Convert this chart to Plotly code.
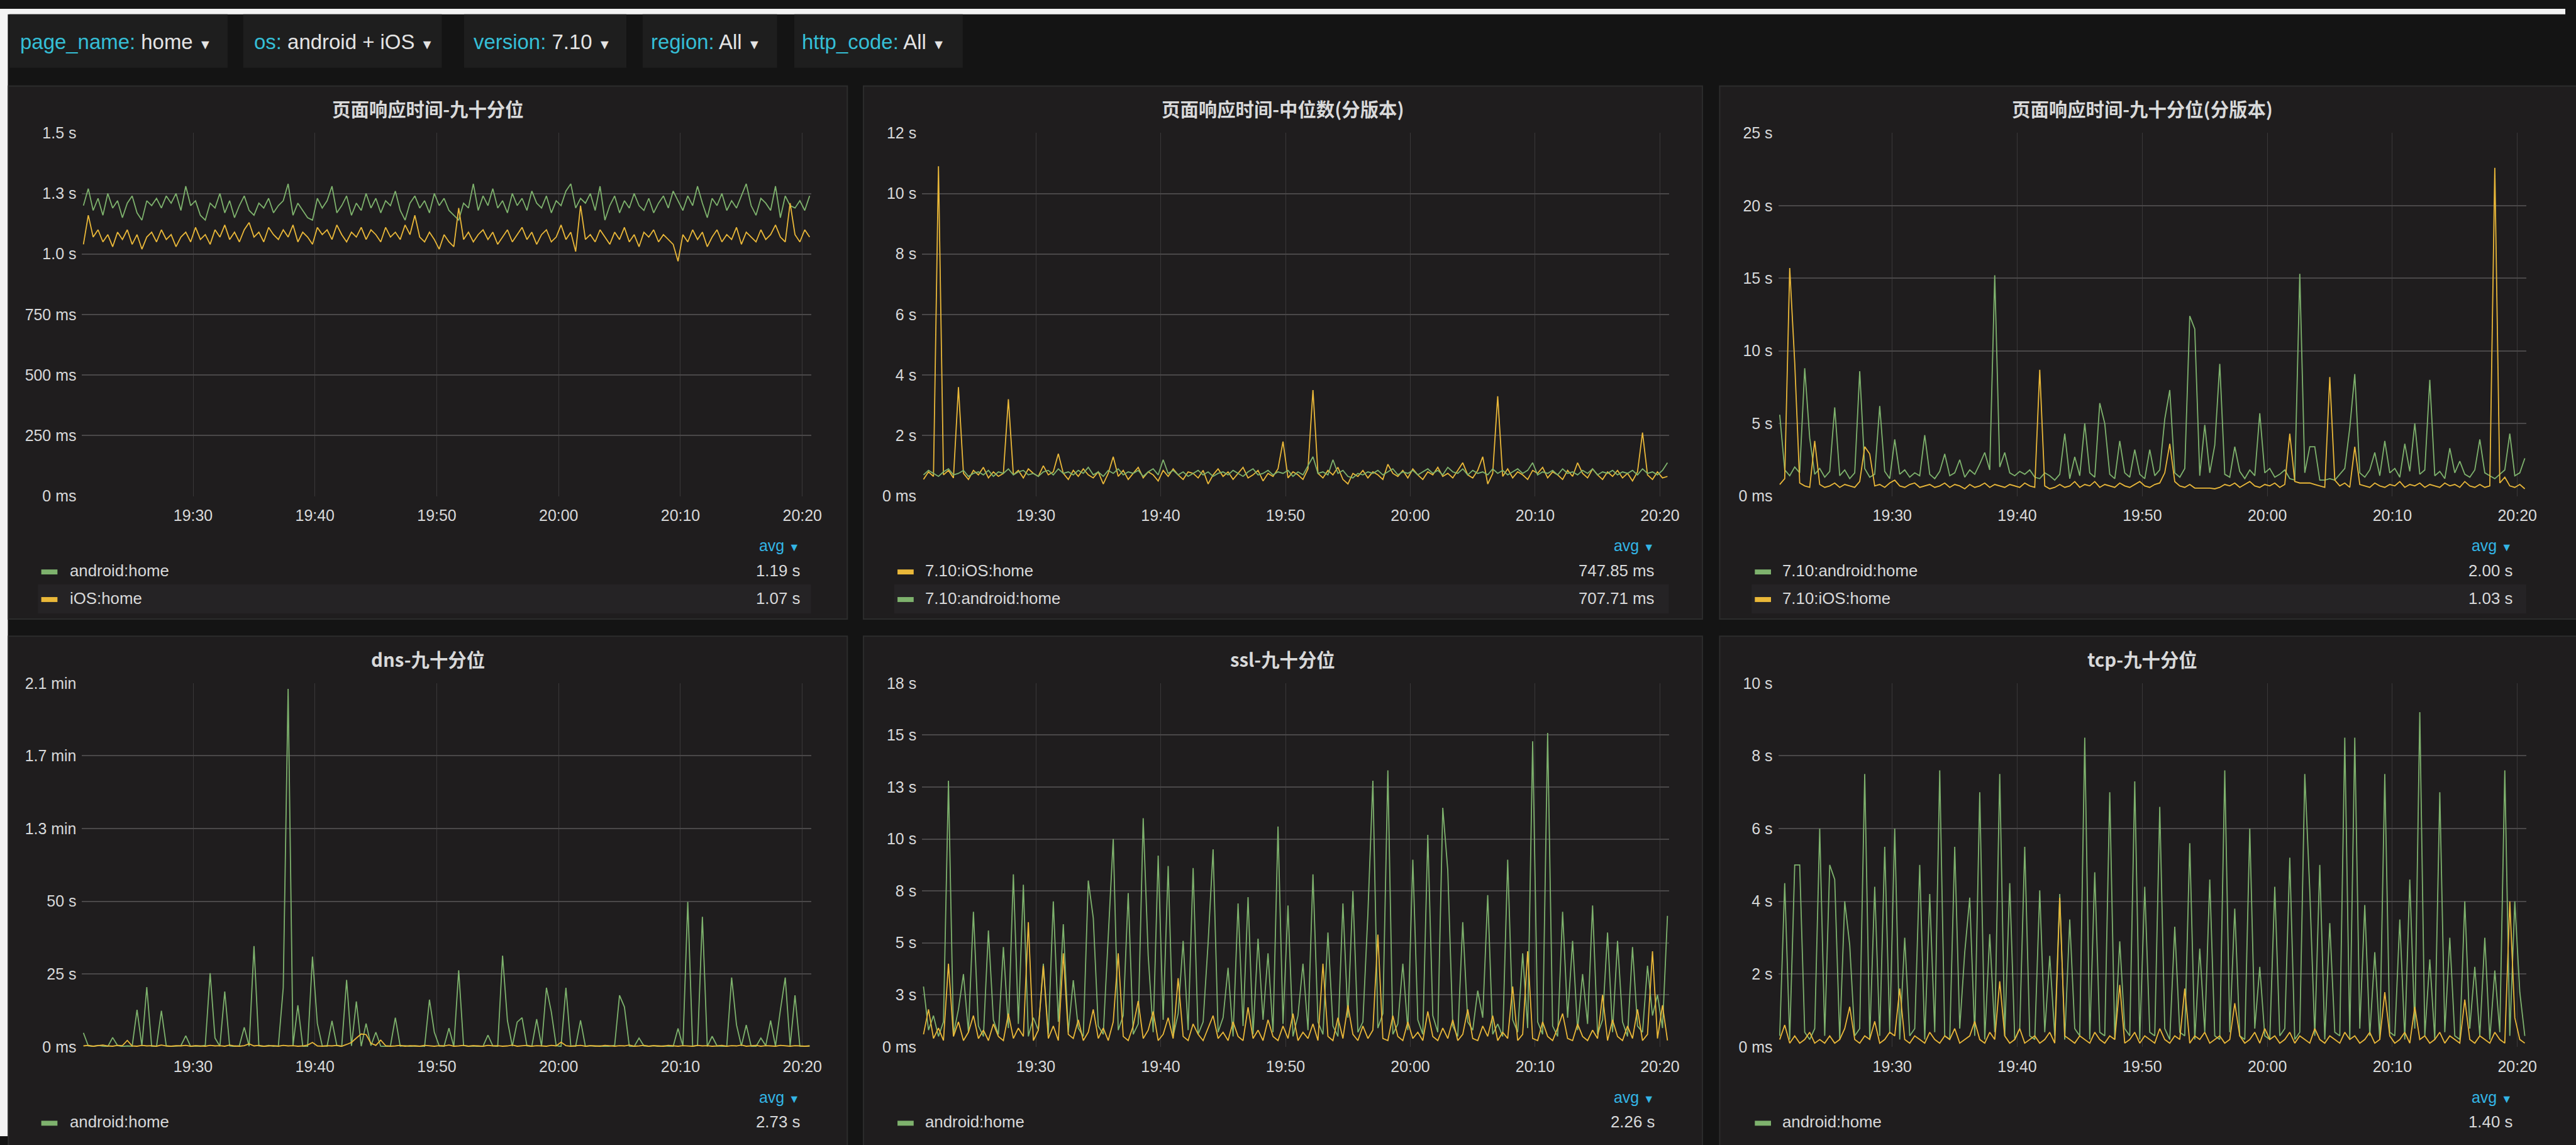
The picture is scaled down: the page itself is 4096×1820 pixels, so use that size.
import pandas as pd
import plotly.graph_objects as go

# ---------------- data ----------------
T_START = "2017-06-01 19:21:00"
N_POINTS = 150
STEP = "24s"
X_RANGE = ["2017-06-01 19:20:53", "2017-06-01 20:20:43"]

p1_android = [
    1.20, 1.27, 1.18, 1.23, 1.16, 1.25, 1.19, 1.22, 1.15, 1.21,
    1.24, 1.17, 1.14, 1.22, 1.20, 1.23, 1.19, 1.24, 1.21, 1.25,
    1.18, 1.28, 1.20, 1.22, 1.16, 1.14, 1.21, 1.19, 1.25, 1.17,
    1.22, 1.15, 1.20, 1.24, 1.18, 1.16, 1.21, 1.19, 1.23, 1.17,
    1.20, 1.22, 1.29, 1.16, 1.21, 1.18, 1.15, 1.14, 1.23, 1.19,
    1.22, 1.28, 1.17, 1.20, 1.24, 1.16, 1.21, 1.18, 1.25, 1.19,
    1.23, 1.17, 1.22, 1.20, 1.26, 1.18, 1.14, 1.21, 1.24, 1.19,
    1.22, 1.17, 1.25, 1.20, 1.23, 1.18, 1.16, 1.14, 1.21, 1.19,
    1.29, 1.18, 1.24, 1.20, 1.27, 1.19, 1.22, 1.17, 1.25, 1.20,
    1.23, 1.18, 1.26, 1.21, 1.19, 1.24, 1.17, 1.22, 1.20, 1.26,
    1.29, 1.19, 1.23, 1.21, 1.25, 1.18, 1.28, 1.14, 1.20, 1.24,
    1.17, 1.22, 1.19, 1.25, 1.20, 1.18, 1.23, 1.17, 1.21, 1.24,
    1.19, 1.26, 1.22, 1.18, 1.24, 1.20, 1.28, 1.21, 1.15, 1.23,
    1.20, 1.25, 1.18, 1.22, 1.19, 1.24, 1.29, 1.20, 1.16, 1.23,
    1.21, 1.18, 1.28, 1.15, 1.24, 1.20, 1.19, 1.22, 1.18, 1.24,
]
p1_ios = [
    1.04, 1.16, 1.07, 1.10, 1.05, 1.08, 1.03, 1.09, 1.06, 1.10,
    1.04, 1.08, 1.02, 1.07, 1.09, 1.05, 1.10, 1.06, 1.08, 1.03,
    1.07, 1.09, 1.05, 1.11, 1.06, 1.08, 1.04, 1.10, 1.07, 1.12,
    1.06, 1.09, 1.05, 1.10, 1.13, 1.07, 1.09, 1.05, 1.11, 1.08,
    1.06, 1.10, 1.07, 1.12, 1.05, 1.09, 1.07, 1.04, 1.11, 1.08,
    1.10, 1.06, 1.12, 1.08, 1.05, 1.09, 1.07, 1.11, 1.06, 1.10,
    1.08, 1.05, 1.11, 1.07, 1.09, 1.06, 1.12, 1.08, 1.16, 1.07,
    1.05, 1.09, 1.06, 1.02, 1.08, 1.05, 1.03, 1.19, 1.06, 1.09,
    1.05, 1.08, 1.10, 1.06, 1.09, 1.04, 1.07, 1.10, 1.05, 1.08,
    1.11, 1.06, 1.09, 1.04, 1.08, 1.10, 1.05, 1.07, 1.12, 1.06,
    1.09, 1.01, 1.20, 1.06, 1.08, 1.05, 1.10, 1.07, 1.04, 1.09,
    1.06, 1.11, 1.05, 1.08, 1.03, 1.09, 1.07, 1.10, 1.05, 1.08,
    1.06, 1.04, 0.97, 1.08, 1.05, 1.10, 1.06, 1.09, 1.03, 1.07,
    1.10, 1.05, 1.08, 1.06, 1.11, 1.04, 1.09, 1.07, 1.05, 1.10,
    1.06, 1.08, 1.12, 1.07, 1.05, 1.21, 1.08, 1.05, 1.10, 1.07,
]
p2_ios = [
    0.55, 0.80, 0.65, 10.90, 0.70, 0.85, 0.60, 3.60, 0.75, 0.55,
    0.85, 0.70, 0.95, 0.60, 0.80, 0.65, 0.75, 3.20, 0.70, 0.85,
    0.60, 0.90, 0.75, 0.65, 1.00, 0.70, 0.80, 1.40, 0.75, 0.55,
    0.85, 0.65, 0.90, 0.70, 0.60, 0.80, 0.40, 0.75, 1.30, 0.65,
    0.85, 0.55, 0.75, 0.95, 0.60, 0.80, 0.70, 0.50, 0.85, 0.65,
    0.90, 0.70, 0.55, 0.80, 0.75, 0.60, 0.85, 0.40, 0.70, 0.90,
    0.65, 0.80, 0.55, 0.75, 0.95, 0.60, 0.70, 0.85, 0.50, 0.75,
    0.65, 0.90, 1.80, 0.60, 0.80, 0.70, 0.55, 0.90, 3.50, 0.75,
    0.60, 0.85, 0.70, 0.95, 0.55, 0.40, 0.75, 0.65, 0.85, 0.60,
    0.80, 0.70, 0.55, 1.05, 0.75, 0.65, 0.85, 0.60, 0.90, 0.70,
    0.55, 0.80, 0.70, 0.95, 0.65, 0.75, 0.60, 0.85, 1.10, 0.70,
    0.60, 0.85, 1.30, 0.40, 0.75, 3.30, 0.65, 0.90, 0.60, 0.80,
    0.70, 0.55, 0.85, 0.75, 0.95, 0.60, 0.80, 0.70, 0.55, 0.85,
    0.65, 1.10, 0.75, 0.60, 0.90, 0.70, 0.55, 0.80, 0.65, 0.85,
    0.60, 0.75, 0.50, 0.80, 2.10, 0.70, 0.55, 0.80, 0.60, 0.65,
]
p2_android = [
    0.70, 0.85, 0.75, 0.65, 0.80, 0.90, 0.70, 0.75, 0.85, 0.65,
    0.75, 0.80, 0.70, 0.85, 0.65, 0.80, 0.75, 0.90, 0.70, 0.80,
    0.85, 0.70, 0.75, 0.65, 0.80, 0.85, 0.70, 0.90, 0.75, 0.80,
    0.70, 0.85, 0.75, 0.95, 0.70, 0.80, 0.65, 0.85, 0.75, 0.90,
    0.70, 0.80, 0.75, 0.85, 0.65, 0.80, 0.90, 0.70, 1.20, 0.75,
    0.85, 0.70, 0.80, 0.65, 0.75, 0.85, 0.70, 0.80, 0.65, 0.75,
    0.80, 0.70, 0.85, 0.75, 0.65, 0.80, 0.90, 0.70, 0.75, 0.85,
    0.70, 0.80, 0.75, 0.85, 0.65, 0.80, 0.70, 1.00, 1.30, 0.75,
    0.80, 0.70, 1.20, 0.75, 0.85, 0.65, 0.60, 0.75, 0.70, 0.80,
    0.75, 0.85, 0.70, 0.80, 0.90, 0.70, 0.80, 0.75, 0.85, 0.70,
    0.80, 0.90, 0.75, 0.85, 0.70, 0.95, 0.80, 0.75, 0.90, 0.70,
    0.85, 0.75, 0.80, 0.70, 0.90, 0.75, 0.85, 0.70, 0.80, 0.90,
    0.75, 0.85, 1.10, 0.70, 0.80, 0.75, 0.85, 0.70, 0.90, 0.75,
    0.80, 0.70, 0.85, 0.75, 0.90, 0.70, 0.80, 0.75, 0.85, 0.70,
    0.80, 0.75, 0.85, 0.70, 0.90, 0.75, 0.80, 0.70, 0.85, 1.10,
]
p3_android = [
    5.6, 1.8, 1.4, 2.0, 1.6, 8.8, 4.0, 1.5, 1.9, 1.3,
    1.7, 6.1, 1.4, 1.8, 1.2, 1.6, 8.6, 1.9, 1.3, 1.5,
    6.2, 1.7, 1.2, 3.9, 1.5, 1.8, 1.3, 1.6, 1.4, 4.2,
    1.5, 1.2, 1.7, 2.9, 1.4, 1.6, 2.5, 1.3, 1.8, 1.5,
    2.2, 3.0, 1.8, 15.2, 2.0, 3.0, 1.6, 1.4, 1.7, 1.5,
    1.8, 1.3, 1.2, 1.6, 1.4, 1.1, 1.5, 4.3, 1.2, 2.7,
    1.4, 5.0, 1.6, 1.3, 6.4, 5.0, 1.5, 1.2, 3.8, 1.6,
    1.3, 3.2, 1.5, 1.2, 3.2, 1.4, 1.8, 5.3, 7.3, 1.6,
    1.3, 1.9, 12.4, 11.5, 1.4, 4.9, 1.6, 3.5, 9.1, 1.5,
    1.3, 3.4, 1.7, 1.2, 1.8, 1.4, 5.7, 1.6, 1.9, 1.3,
    1.5, 1.8, 1.2, 1.1, 15.3, 1.6, 3.4, 3.4, 1.1, 1.1,
    1.2, 1.1, 1.5, 1.9, 4.7, 8.4, 1.6, 1.3, 1.8, 3.0,
    1.4, 3.8, 1.6, 1.9, 1.3, 3.6, 1.7, 5.0, 1.5, 1.8,
    8.0, 1.4, 1.7, 1.2, 3.3, 1.6, 2.4, 1.5, 1.3, 1.8,
    3.9, 1.6, 1.4, 1.2, 1.5, 1.8, 4.3, 1.4, 1.6, 2.6,
]
p3_ios = [
    0.8, 1.2, 15.7, 9.2, 0.9, 0.7, 0.6, 3.8, 0.8, 0.6,
    0.7, 0.9, 0.6, 0.8, 0.7, 0.6, 1.0, 3.4, 2.9, 0.7,
    0.8, 0.6, 0.9, 1.1, 0.7, 0.6, 0.8, 0.9, 0.6, 0.7,
    0.8, 0.6, 0.7, 0.9, 0.6, 0.8, 0.7, 0.5, 0.8, 0.6,
    0.7, 0.9, 0.6, 0.8, 0.7, 0.6, 0.8, 0.7, 0.6, 0.9,
    0.7, 0.6, 8.7, 0.7, 0.5, 0.6, 0.8, 0.6, 0.7, 1.0,
    0.6, 0.8, 0.7, 1.0, 0.6, 0.8, 0.7, 0.6, 0.9, 0.7,
    0.6, 0.8, 1.0, 0.7, 0.6, 0.8, 0.9, 1.6, 3.6, 1.0,
    0.7, 0.6, 0.8, 0.55, 0.55, 0.55, 0.55, 0.5, 0.6, 0.8,
    0.7, 0.9, 0.6, 0.8, 1.0, 0.7, 0.6, 0.8, 0.7, 0.9,
    0.6, 0.8, 4.3, 1.0, 0.9, 0.9, 0.9, 0.8, 0.7, 0.6,
    8.2, 1.1, 0.7, 0.9, 0.6, 3.4, 0.8, 0.7, 0.6, 0.9,
    0.7, 0.6, 0.8, 0.7, 1.0, 0.6, 0.8, 0.7, 0.9, 0.6,
    0.8, 0.7, 0.6, 0.9, 0.7, 0.8, 0.6, 1.0, 0.7, 0.6,
    0.8, 0.6, 0.7, 22.6, 0.9, 1.3, 0.7, 0.6, 0.8, 0.5,
]
dns_android = [
    4.8, 0.3, 0.1, 0.5, 0.2, 0.1, 3.2, 0.4, 0.1, 0.3,
    0.2, 12.7, 0.3, 20.5, 0.2, 0.1, 12.4, 0.3, 0.1, 0.2,
    0.4, 3.8, 0.1, 0.3, 0.2, 0.5, 25.3, 3.0, 0.2, 19.0,
    0.3, 0.1, 0.4, 6.7, 0.2, 34.6, 0.3, 0.1, 0.5, 0.2,
    0.3, 20.3, 123.0, 0.4, 14.3, 0.2, 0.1, 31.0, 8.0, 0.3,
    0.2, 8.9, 0.4, 0.1, 23.0, 0.3, 15.6, 0.2, 8.0, 0.4,
    5.0, 0.2, 0.1, 0.3, 10.0, 0.2, 0.4, 0.1, 0.3, 0.2,
    0.1, 16.2, 5.0, 0.3, 0.2, 6.4, 0.1, 26.3, 0.4, 0.2,
    0.3, 0.1, 0.2, 4.0, 0.3, 0.1, 31.3, 9.0, 0.2, 8.5,
    10.0, 0.3, 0.1, 9.5, 0.2, 20.3, 12.0, 0.4, 0.1, 20.3,
    0.3, 0.2, 9.1, 0.1, 0.4, 0.2, 0.3, 0.1, 0.2, 0.5,
    17.7, 13.7, 0.2, 0.1, 3.0, 0.3, 0.2, 0.4, 0.1, 0.3,
    0.2, 0.1, 6.3, 0.3, 49.8, 0.2, 0.4, 44.7, 0.1, 3.6,
    0.3, 0.2, 0.1, 23.8, 7.5, 0.3, 7.5, 0.2, 0.1, 3.0,
    0.4, 9.0, 0.2, 12.6, 23.8, 0.3, 17.7, 0.2, 0.1, 0.3,
]
dns_ios = [
    0.3, 0.5, 0.2, 0.4, 0.6, 0.3, 0.2, 0.5, 0.4, 2.2,
    0.3, 0.2, 0.5, 0.3, 0.4, 0.2, 0.6, 0.3, 0.2, 0.4,
    0.3, 0.5, 0.2, 0.4, 0.3, 0.2, 0.5, 0.3, 0.4, 0.2,
    0.6, 0.3, 0.2, 0.4, 1.0, 0.3, 0.5, 0.2, 0.3, 0.4,
    0.2, 0.5, 0.3, 0.4, 0.2, 0.3, 0.6, 1.5, 0.3, 0.2,
    0.4, 0.3, 0.5, 0.2, 0.8, 1.5, 3.0, 4.4, 4.2, 1.2,
    0.5, 2.3, 0.4, 0.2, 0.3, 0.5, 0.2, 0.4, 0.3, 0.2,
    0.5, 0.3, 0.2, 0.4, 0.3, 0.6, 0.2, 0.3, 0.5, 0.2,
    0.4, 0.3, 0.2, 0.5, 0.3, 0.4, 0.2, 0.3, 0.6, 0.2,
    0.3, 0.5, 0.2, 0.4, 0.3, 0.2, 0.5, 0.3, 1.6, 0.4,
    0.2, 0.3, 0.5, 0.2, 0.4, 0.3, 0.2, 0.5, 0.3, 0.2,
    0.4, 0.3, 0.6, 0.2, 0.3, 0.5, 0.2, 0.4, 0.3, 0.2,
    0.5, 0.3, 0.2, 0.4, 0.3, 0.2, 0.5, 0.3, 0.4, 0.2,
    0.3, 0.5, 0.2, 0.4, 0.3, 0.6, 0.2, 0.3, 0.5, 0.2,
    0.4, 0.3, 0.2, 0.5, 0.3, 0.2, 0.4, 0.3, 0.2, 0.3,
]
ssl_android = [
    2.9, 0.8, 1.5, 0.5, 1.2, 12.8, 0.6, 1.8, 3.5, 0.7,
    6.5, 1.0, 0.5, 5.6, 1.3, 0.6, 4.8, 0.9, 8.3, 1.1,
    7.8, 0.5, 1.4, 0.8, 4.0, 0.6, 7.0, 1.2, 5.9, 0.7,
    3.2, 0.9, 0.5, 8.0, 6.2, 1.0, 0.6, 5.1, 10.0, 0.8,
    1.5, 7.4, 0.6, 1.1, 11.0, 4.4, 0.7, 9.2, 1.3, 8.7,
    0.5, 1.6, 5.1, 0.8, 8.6, 0.6, 1.2, 5.0, 9.5, 0.7,
    1.4, 3.8, 0.5, 6.9, 1.0, 7.2, 0.6, 5.2, 1.3, 4.5,
    0.7, 10.6, 1.1, 6.8, 0.5, 1.5, 4.0, 0.8, 8.3, 1.2,
    0.6, 5.5, 1.0, 0.5, 6.9, 1.4, 7.5, 0.7, 1.2, 6.4,
    12.8, 0.9, 1.6, 13.3, 0.6, 1.1, 4.0, 0.8, 9.0, 1.3,
    0.6, 10.2, 1.5, 0.7, 11.5, 8.5, 1.0, 0.5, 6.0, 1.2,
    0.8, 2.7, 1.4, 7.3, 0.6, 1.1, 0.5, 9.0, 1.3, 0.7,
    4.5, 0.9, 14.7, 1.2, 0.6, 15.1, 1.0, 0.5, 6.5, 1.4,
    5.1, 0.8, 3.5, 1.1, 6.8, 0.6, 1.3, 5.5, 0.7, 5.1,
    1.2, 0.5, 4.8, 1.0, 0.7, 3.9, 1.5, 2.5, 0.9, 6.3,
]
ssl_ios = [
    0.6, 1.8, 0.4, 0.9, 0.3, 4.0, 0.5, 1.2, 0.3, 0.7,
    1.5, 0.4, 0.8, 0.3, 1.1, 0.5, 0.3, 1.6, 0.4, 0.9,
    0.5, 6.0, 0.3, 0.8, 3.9, 0.4, 1.0, 0.3, 4.5, 0.6,
    0.4, 1.3, 0.3, 0.7, 1.8, 0.4, 0.9, 0.3, 1.2, 4.5,
    0.5, 0.3, 1.0, 2.2, 0.4, 0.8, 1.7, 0.3, 0.6, 1.4,
    0.4, 3.3, 0.5, 0.3, 1.1, 0.6, 0.3, 0.9, 1.5, 0.4,
    0.7, 0.3, 1.2, 0.5, 0.3, 1.9, 0.4, 0.8, 0.3, 1.3,
    0.5, 0.3, 1.0, 0.4, 1.6, 0.3, 0.7, 0.4, 1.1, 0.3,
    4.0, 0.5, 0.3, 1.4, 0.4, 2.0, 0.6, 0.3, 1.0, 0.4,
    0.8, 5.4, 0.4, 0.3, 1.5, 0.5, 0.3, 1.2, 0.4, 0.7,
    0.3, 1.7, 0.5, 0.3, 0.9, 0.4, 1.3, 0.3, 0.6, 1.8,
    0.4, 0.3, 1.0, 0.5, 1.5, 0.3, 0.7, 0.4, 2.9, 0.3,
    0.6, 4.6, 0.4, 0.3, 1.2, 0.5, 0.3, 0.9, 1.6, 0.4,
    0.3, 1.1, 0.5, 0.3, 0.8, 0.4, 2.5, 0.3, 1.3, 0.5,
    0.3, 1.0, 0.4, 1.8, 0.3, 0.6, 4.6, 0.4, 2.0, 0.3,
]
tcp_android = [
    0.3, 4.5, 0.2, 5.0, 5.0, 0.4, 0.2, 0.5, 6.0, 0.3,
    5.0, 4.6, 0.2, 4.0, 2.8, 0.3, 0.5, 7.5, 0.2, 4.4,
    0.3, 5.5, 0.4, 6.0, 0.2, 3.0, 0.3, 0.5, 5.0, 0.2,
    4.2, 0.4, 7.6, 0.3, 0.2, 5.5, 0.5, 2.6, 4.1, 0.3,
    7.0, 0.2, 3.1, 0.4, 7.5, 0.3, 4.5, 0.2, 0.5, 5.5,
    0.3, 0.2, 4.3, 0.4, 2.5, 0.3, 4.2, 0.2, 3.5, 0.5,
    0.3, 8.5, 0.2, 4.8, 0.4, 0.3, 7.0, 0.2, 2.9, 0.5,
    0.3, 7.3, 0.2, 4.4, 0.4, 0.3, 6.6, 0.5, 0.2, 3.3,
    0.4, 0.3, 5.6, 0.2, 2.7, 0.4, 4.6, 0.3, 0.2, 7.6,
    0.4, 3.8, 0.3, 0.2, 6.0, 0.5, 2.2, 0.3, 0.2, 4.4,
    0.3, 0.5, 5.2, 0.2, 0.4, 7.5, 4.3, 0.3, 5.0, 0.2,
    3.4, 0.4, 0.3, 8.5, 0.2, 8.5, 0.5, 3.9, 0.3, 2.6,
    0.2, 7.5, 0.4, 0.3, 3.5, 0.2, 4.6, 0.5, 9.2, 0.3,
    2.4, 0.2, 7.0, 0.4, 3.0, 0.3, 0.2, 4.0, 0.5, 2.2,
    0.3, 3.0, 0.2, 2.1, 0.4, 7.6, 0.3, 4.0, 1.5, 0.3,
]
tcp_ios = [
    0.2, 0.6, 0.1, 0.3, 0.1, 0.2, 0.4, 0.1, 0.2, 0.1,
    0.3, 0.1, 0.2, 0.5, 1.1, 0.2, 0.1, 0.3, 0.2, 0.7,
    0.1, 0.2, 0.4, 0.3, 1.6, 0.2, 0.1, 0.3, 0.2, 0.1,
    0.4, 0.2, 0.1, 0.3, 0.2, 0.5, 0.1, 0.2, 0.3, 0.7,
    0.2, 0.1, 0.4, 0.2, 1.8, 0.3, 0.1, 0.2, 0.5, 0.1,
    0.2, 0.3, 0.1, 0.2, 0.4, 0.1, 4.1, 0.3, 0.2, 0.1,
    0.3, 0.2, 0.1, 0.4, 0.2, 0.1, 0.3, 0.2, 1.7, 0.1,
    0.2, 0.4, 0.1, 0.3, 0.2, 0.1, 0.5, 0.2, 0.1, 0.3,
    0.2, 1.6, 0.1, 0.3, 0.2, 0.4, 0.1, 0.2, 0.3, 0.1,
    0.2, 1.2, 0.3, 0.1, 0.2, 0.4, 0.1, 0.5, 0.2, 0.3,
    0.1, 0.2, 0.4, 0.1, 0.3, 0.2, 0.1, 0.5, 0.2, 0.1,
    0.3, 0.2, 0.1, 0.4, 0.2, 0.3, 0.1, 0.2, 0.4, 0.1,
    0.2, 1.5, 0.3, 0.1, 0.2, 0.4, 0.1, 1.1, 0.2, 0.3,
    0.1, 0.2, 0.4, 0.1, 0.3, 0.2, 0.1, 1.3, 0.2, 0.1,
    0.3, 0.2, 0.1, 0.4, 0.2, 0.1, 4.0, 0.8, 0.2, 0.1,
]

# tick values / labels
p1_tickvals = [0, 0.25, 0.5, 0.75, 1.0, 1.25, 1.5]
p1_ticktext = ["0 ms", "250 ms", "500 ms", "750 ms", "1.0 s", "1.3 s", "1.5 s"]
p2_tickvals = [0, 2, 4, 6, 8, 10, 12]
p2_ticktext = ["0 ms", "2 s", "4 s", "6 s", "8 s", "10 s", "12 s"]
p3_tickvals = [0, 5, 10, 15, 20, 25]
p3_ticktext = ["0 ms", "5 s", "10 s", "15 s", "20 s", "25 s"]
dns_tickvals = [0, 25, 50, 75, 100, 125]
dns_ticktext = ["0 ms", "25 s", "50 s", "1.3 min", "1.7 min", "2.1 min"]
ssl_tickvals = [0, 2.5, 5, 7.5, 10, 12.5, 15, 17.5]
ssl_ticktext = ["0 ms", "3 s", "5 s", "8 s", "10 s", "13 s", "15 s", "18 s"]
tcp_tickvals = [0, 2, 4, 6, 8, 10]
tcp_ticktext = ["0 ms", "2 s", "4 s", "6 s", "8 s", "10 s"]

titles = ["页面响应时间-九十分位", "页面响应时间-中位数(分版本)", "页面响应时间-九十分位(分版本)",
          "dns-九十分位", "ssl-九十分位", "tcp-九十分位"]

legend_names = [
    ["android:home", "iOS:home"],
    ["7.10:iOS:home", "7.10:android:home"],
    ["7.10:android:home", "7.10:iOS:home"],
    ["android:home"], ["android:home"], ["android:home"],
]
legend_avgs = [
    ["1.19 s", "1.07 s"],
    ["747.85 ms", "707.71 ms"],
    ["2.00 s", "1.03 s"],
    ["2.73 s"], ["2.26 s"], ["1.40 s"],
]

variables = [("page_name:", "home"), ("os:", "android + iOS"), ("version:", "7.10"),
             ("region:", "All"), ("http_code:", "All")]

# ---------------- styling / geometry (reference pixel space) ----------------
GREEN = "#7eb26d"
YELLOW = "#eab839"
W_REF, H_REF = 4599, 2043
K = 4096 / W_REF


def fx(x):
    return x / W_REF


def fy(y):
    return 1 - y / H_REF


def fs(px):
    return px * K


LATIN = "Liberation Sans, Arial, Helvetica, sans-serif"
CJK = "Noto Sans CJK SC, sans-serif"
TXT = "#d8d9da"

times = pd.date_range(T_START, periods=N_POINTS, freq=STEP)

panel_cols = [(15, 1519), (1548, 3052), (3083, 4660)]
panel_rows = [(140, 1106), (1137, 2120)]
plot_x = [(147, 1454), (1653, 2992), (3188, 4529)]
plot_y = [(225, 883), (1222, 1881)]
swatch_x = [74, 1609, 3146]
name_x = [123, 1656, 3193]
value_r = [1436, 2969, 4506]
title_y = [180, 1178]
avg_y = [972, 1972]
row_y = [[1018, 1068], [2017]]

series = [
    [(p1_android, GREEN), (p1_ios, YELLOW)],
    [(p2_ios, YELLOW), (p2_android, GREEN)],
    [(p3_android, GREEN), (p3_ios, YELLOW)],
    [(dns_android, GREEN), (dns_ios, YELLOW)],
    [(ssl_android, GREEN), (ssl_ios, YELLOW)],
    [(tcp_android, GREEN), (tcp_ios, YELLOW)],
]
ticks = [
    (p1_tickvals, p1_ticktext), (p2_tickvals, p2_ticktext), (p3_tickvals, p3_ticktext),
    (dns_tickvals, dns_ticktext), (ssl_tickvals, ssl_ticktext), (tcp_tickvals, tcp_ticktext),
]
legend_colors = [[GREEN, YELLOW], [YELLOW, GREEN], [GREEN, YELLOW], [GREEN], [GREEN], [GREEN]]

fig = go.Figure()
shapes = []
annotations = []

# page background pieces
shapes.append(dict(type="rect", xref="paper", yref="paper", x0=0, x1=1, y0=0, y1=1,
                   fillcolor="#141414", line=dict(width=0), layer="below"))
shapes.append(dict(type="rect", xref="paper", yref="paper", x0=0, x1=fx(14), y0=0, y1=1,
                   fillcolor="#f3f3f3", line=dict(width=0), layer="below"))
shapes.append(dict(type="rect", xref="paper", yref="paper", x0=0, x1=1, y0=fy(10), y1=1,
                   fillcolor="#f3f3f3", line=dict(width=0), layer="below"))

# variable bar
box_x = [(17, 408), (436, 792), (832, 1123), (1152, 1393), (1424, 1726)]
text_x = [34, 453, 847, 1165, 1435]
for (bx0, bx1), tx, (lab, val) in zip(box_x, text_x, variables):
    shapes.append(dict(type="rect", xref="paper", yref="paper", x0=fx(bx0), x1=fx(bx1),
                       y0=fy(107), y1=fy(10), fillcolor="#1e1e1e", line=dict(width=0),
                       layer="below"))
    annotations.append(dict(
        xref="paper", yref="paper", x=fx(tx), y=fy(60), xanchor="left", yanchor="middle",
        showarrow=False, font=dict(family=LATIN, size=fs(37), color="#e4e4e4"),
        text=f"<span style='color:#35bfd6'>{lab}</span> {val} <span style='font-size:{fs(24):.1f}px'>▼</span>"))

# panels
for p in range(6):
    r, c = divmod(p, 3)
    px0, px1 = panel_cols[c]
    py0, py1 = panel_rows[r]
    shapes.append(dict(type="rect", xref="paper", yref="paper", x0=fx(px0), x1=fx(px1),
                       y0=fy(py1), y1=fy(py0), fillcolor="#1f1d1e",
                       line=dict(color="#2c2c2c", width=2), layer="below"))
    # title
    annotations.append(dict(
        xref="paper", yref="paper", x=fx((px0 + px1) / 2 if c < 2 else (px0 + 4599 + 40) / 2 - 20),
        y=fy(title_y[r]), xanchor="center", yanchor="middle", showarrow=False,
        text=f"<b>{titles[p]}</b>", font=dict(family=CJK, size=fs(33), color=TXT)))
    # axes
    ax_id = "" if p == 0 else str(p + 1)
    xa, ya = plot_x[c], plot_y[r]
    tv, tt = ticks[p]
    fig.update_layout(**{
        f"xaxis{ax_id}": dict(
            domain=[fx(xa[0]), fx(xa[1])], anchor=f"y{ax_id}", type="date",
            range=X_RANGE, tickformat="%H:%M", dtick=600000,
            tick0="2017-06-01 19:30:00", showgrid=True, gridcolor="#3a3839", gridwidth=1,
            zeroline=False, showline=False, ticks="", ticklabelstandoff=int(fs(16)),
            tickfont=dict(family=LATIN, size=fs(28), color=TXT), fixedrange=True),
        f"yaxis{ax_id}": dict(
            domain=[fy(ya[1]), fy(ya[0])], anchor=f"x{ax_id}", range=[0, tv[-1]],
            tickvals=tv, ticktext=tt, showgrid=True, gridcolor="#4a4849", gridwidth=2,
            zeroline=False, showline=False, ticks="", ticklabelstandoff=int(fs(10)),
            tickfont=dict(family=LATIN, size=fs(28), color=TXT), fixedrange=True),
    })
    for vals, col in series[p]:
        fig.add_trace(go.Scatter(
            x=times, y=vals, mode="lines", line=dict(color=col, width=1.8),
            xaxis=f"x{ax_id}", yaxis=f"y{ax_id}", hoverinfo="skip", showlegend=False))

    # legend
    annotations.append(dict(
        xref="paper", yref="paper", x=fx(value_r[c]), y=fy(avg_y[r]), xanchor="right",
        yanchor="middle", showarrow=False,
        text=f"avg <span style='font-size:{fs(20):.1f}px'>▼</span>",
        font=dict(family=LATIN, size=fs(28), color="#33b5e5")))
    for k, ry in enumerate(row_y[r]):
        if k == 1:
            shapes.append(dict(type="rect", xref="paper", yref="paper",
                               x0=fx(swatch_x[c] - 6), x1=fx(xa[1]),
                               y0=fy(ry + 28), y1=fy(ry - 25), fillcolor="#252325",
                               line=dict(width=0), layer="below"))
        shapes.append(dict(type="rect", xref="paper", yref="paper",
                           x0=fx(swatch_x[c]), x1=fx(swatch_x[c] + 29),
                           y0=fy(ry + 7), y1=fy(ry - 2),
                           fillcolor=legend_colors[p][k], line=dict(width=0), layer="above"))
        annotations.append(dict(
            xref="paper", yref="paper", x=fx(name_x[c]), y=fy(ry), xanchor="left",
            yanchor="middle", showarrow=False, text=legend_names[p][k],
            font=dict(family=LATIN, size=fs(29), color=TXT)))
        annotations.append(dict(
            xref="paper", yref="paper", x=fx(value_r[c]), y=fy(ry), xanchor="right",
            yanchor="middle", showarrow=False, text=legend_avgs[p][k],
            font=dict(family=LATIN, size=fs(29), color=TXT)))

fig.update_layout(
    width=4096, height=1820, margin=dict(l=0, r=0, t=0, b=0),
    paper_bgcolor="#141414", plot_bgcolor="rgba(0,0,0,0)",
    shapes=shapes, annotations=annotations, showlegend=False,
)

fig.write_html(
    "out.html",
    config={"displayModeBar": False},
    post_script="document.body.style.margin='0';document.body.style.overflow='hidden';",
)
